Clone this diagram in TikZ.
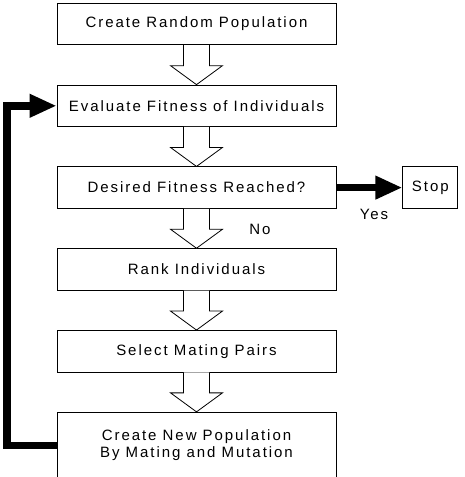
\documentclass[tikz,border=0pt]{standalone}
\usepackage{fontspec}
\setmainfont{Liberation Sans}[LetterSpace=13]
\usetikzlibrary{positioning,calc,arrows.meta}
\tikzset{
  stage/.style={draw,line width=0.8pt,minimum width=279pt,minimum height=41.5pt,
    align=center,font=\fontsize{15}{17}\selectfont},
  hollow/.style={draw,line width=0.8pt,fill=white},
  thickarrow/.style={line width=7.5pt,-{Triangle[length=27pt,width=22pt]}},
  lbl/.style={font=\fontsize{15}{17}\selectfont}
}
\newcommand\stagearrow[2]{%
  \draw[hollow] let \p1=(#1.south), \p2=(#2.north) in
    (\x1-13pt,\y1) -- (\x1-13pt,\y2+19pt) -- (\x1-26pt,\y2+19pt) -- (\x2,\y2)
    -- (\x1+26pt,\y2+19pt) -- (\x1+13pt,\y2+19pt) -- (\x1+13pt,\y1);}

\begin{document}
\begin{tikzpicture}[x=1pt,y=-1pt,node distance=39.5pt]
    \useasboundingbox (0,0) rectangle (464,477);

    \node[stage] (create) at (196.5,24) {Create Random Population};
    \node[stage,below=of create] (evaluate) {Evaluate Fitness of Individuals};
    \node[stage,below=of evaluate] (desired) {Desired Fitness Reached?};
    \node[stage,below=of desired] (rank) {Rank Individuals};
    \node[stage,below=of rank] (select) {Select Mating Pairs};
    \node[stage,below=of select,minimum height=66pt] (newpop)
        {Create New Population\\By Mating and Mutation};
    \node[stage,minimum width=55pt,right=66pt of desired] (stop) {Stop};

    \stagearrow{create}{evaluate}
    \stagearrow{evaluate}{desired}
    \stagearrow{desired}{rank}
    \stagearrow{rank}{select}
    \stagearrow{select}{newpop}

    \draw[thickarrow] (desired) -- (stop);
    \draw[thickarrow] (newpop.west) -- ++(-49.5pt,0) |- (evaluate.west);

    \node[lbl] (yes) at (374,214) {Yes};
    \node[lbl] (no) at (260,229) {No};
\end{tikzpicture}
\end{document}
